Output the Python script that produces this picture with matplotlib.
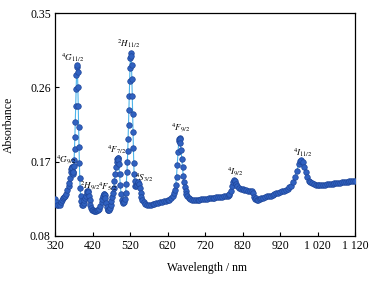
import matplotlib
matplotlib.use("Agg")
import matplotlib.pyplot as plt

plt.rcParams['font.family'] = ['Liberation Serif', 'DejaVu Serif']
plt.rcParams['mathtext.fontset'] = 'stix'

wavelength = [
    320, 323, 326, 329, 332, 335, 338, 341, 344, 347, 350, 353, 356, 358, 360,
    362, 363, 364, 365, 366, 367, 368, 369, 370, 371, 372, 373, 374, 375, 376,
    377, 378, 379, 380, 381, 382, 383, 384, 385, 386, 387, 388, 390, 392, 394,
    396, 398, 400, 402, 404, 406, 407, 408, 410, 412, 414, 416, 418, 420, 423,
    426, 429, 432, 435, 438, 441, 444, 446, 448, 450, 451, 452, 454, 456, 458,
    460, 462, 464, 466, 468, 470, 472, 474, 476, 478, 480, 482, 484, 486, 487,
    488, 489, 490, 492, 494, 496, 498, 500, 502, 504, 506, 508, 510, 512, 513,
    514, 515, 516, 517, 518, 519, 520, 521, 522, 523, 524, 525, 526, 527, 528,
    529, 530, 531, 532, 534, 536, 538, 540, 542, 544, 546, 548, 550, 553, 556,
    560, 565, 570, 575, 580, 585, 590, 595, 600, 605, 610, 615, 620, 625, 630,
    635, 638, 640, 642, 644, 646, 648, 650, 651, 652, 653, 654, 656, 658, 660,
    662, 664, 666, 668, 670, 673, 676, 680, 685, 690, 695, 700, 705, 710, 715,
    720, 725, 730, 735, 740, 745, 750, 755, 760, 765, 770, 775, 780, 783, 785,
    788, 791, 794, 797, 800, 803, 806, 810, 815, 820, 825, 830, 835, 840, 845,
    848, 850, 852, 855, 858, 862, 866, 870, 875, 880, 885, 890, 895, 900, 905,
    910, 915, 920, 925, 930, 935, 940, 945, 950, 955, 960, 965, 970, 974, 977,
    980, 984, 988, 992, 996, 1000, 1005, 1010, 1015, 1020, 1025, 1030, 1035,
    1040, 1045, 1050, 1055, 1060, 1065, 1070, 1075, 1080, 1085, 1090, 1095,
    1100, 1105, 1110, 1115, 1120,
]

absorbance = [
    0.125, 0.121, 0.118, 0.117, 0.118, 0.121, 0.124, 0.126, 0.127, 0.128, 0.131, 0.136, 0.140, 0.144, 0.150,
    0.157, 0.161, 0.163, 0.164, 0.162, 0.158, 0.155, 0.158, 0.165, 0.172, 0.185, 0.200, 0.218, 0.238, 0.258,
    0.275, 0.285, 0.287, 0.278, 0.260, 0.238, 0.212, 0.188, 0.168, 0.150, 0.138, 0.129, 0.122, 0.118, 0.118,
    0.120, 0.123, 0.126, 0.129, 0.132, 0.134, 0.134, 0.133, 0.129, 0.123, 0.118, 0.114, 0.112, 0.111, 0.110,
    0.110, 0.110, 0.111, 0.112, 0.113, 0.116, 0.121, 0.125, 0.129, 0.131, 0.131, 0.130, 0.126, 0.120, 0.115,
    0.112, 0.111, 0.112, 0.114, 0.118, 0.122, 0.127, 0.132, 0.138, 0.146, 0.155, 0.163, 0.169, 0.173, 0.174,
    0.174, 0.172, 0.167, 0.155, 0.142, 0.131, 0.124, 0.121, 0.120, 0.121, 0.125, 0.132, 0.143, 0.158, 0.170,
    0.183, 0.198, 0.215, 0.232, 0.250, 0.268, 0.284, 0.296, 0.301, 0.298, 0.287, 0.270, 0.250, 0.228, 0.206,
    0.186, 0.168, 0.155, 0.146, 0.140, 0.140, 0.142, 0.144, 0.145, 0.143, 0.138, 0.132, 0.127, 0.123, 0.121,
    0.119, 0.118, 0.118, 0.118, 0.119, 0.119, 0.120, 0.120, 0.121, 0.121, 0.122, 0.122, 0.123, 0.124, 0.126,
    0.129, 0.132, 0.136, 0.142, 0.152, 0.166, 0.182, 0.195, 0.198, 0.199, 0.197, 0.193, 0.184, 0.173, 0.163,
    0.153, 0.145, 0.139, 0.134, 0.131, 0.128, 0.126, 0.125, 0.124, 0.124, 0.124, 0.124, 0.124, 0.125, 0.125,
    0.125, 0.125, 0.126, 0.126, 0.126, 0.126, 0.127, 0.127, 0.127, 0.127, 0.128, 0.128, 0.129, 0.130, 0.131,
    0.135, 0.140, 0.145, 0.148, 0.147, 0.143, 0.140, 0.138, 0.137, 0.137, 0.136, 0.136, 0.135, 0.134, 0.134,
    0.132, 0.127, 0.125, 0.126, 0.123, 0.124, 0.125, 0.126, 0.126, 0.127, 0.128, 0.129, 0.129, 0.130, 0.131,
    0.132, 0.132, 0.133, 0.134, 0.135, 0.136, 0.137, 0.139, 0.141, 0.145, 0.151, 0.159, 0.167, 0.171, 0.172,
    0.170, 0.164, 0.157, 0.151, 0.147, 0.145, 0.144, 0.143, 0.142, 0.142, 0.142, 0.142, 0.142,
    0.142, 0.143, 0.143, 0.143, 0.143, 0.144, 0.144, 0.144, 0.144, 0.145, 0.145, 0.145,
    0.145, 0.146, 0.146, 0.146, 0.147,
]

x_ticks = [320, 420, 520, 620, 720, 820, 920, 1020, 1120]
x_tick_labels = ['320', '420', '520', '620', '720', '820', '920', '1 020', '1 120']
y_ticks = [0.08, 0.17, 0.26, 0.35]
y_tick_labels = ['0.08', '0.17', '0.26', '0.35']

peak_labels = [r'$^{4}G_{11/2}$', r'$^{2}H_{11/2}$', r'$^{4}F_{9/2}$', r'$^{4}G_{9/2}$',
               r'$^{2}H_{9/2}$', r'$^{4}F_{5/2}$', r'$^{4}F_{7/2}$', r'$^{4}S_{3/2}$',
               r'$^{4}I_{9/2}$', r'$^{4}I_{11/2}$']
peak_label_x = [368, 517, 656, 350, 413, 461, 485, 557, 800, 982]
peak_label_y = [0.296, 0.313, 0.210, 0.172, 0.140, 0.140, 0.184, 0.151, 0.157, 0.181]

fig = plt.figure(figsize=(3.85, 2.84), dpi=100)
ax = fig.add_axes([55/385, 1-236/284, 300/385, 223/284])

ax.plot(wavelength, absorbance, '-', color='#4db4ea', lw=0.8, zorder=2)
ax.plot(wavelength, absorbance, 'o', ms=4.0, mfc='#3061c0', mec='#1f4699', mew=0.5, zorder=3)

for t, xx, yy in zip(peak_labels, peak_label_x, peak_label_y):
    ax.text(xx, yy, t, fontsize=6.5, ha='center', va='center', zorder=4)

ax.set_xlim(320, 1120)
ax.set_ylim(0.08, 0.35)
ax.set_xticks(x_ticks)
ax.set_xticklabels(x_tick_labels)
ax.set_yticks(y_ticks)
ax.set_yticklabels(y_tick_labels)
ax.tick_params(direction='in', length=3, width=0.8, labelsize=8.5, pad=3)
for s in ax.spines.values():
    s.set_linewidth(0.9)

ax.set_xlabel('Wavelength / nm', fontsize=8.5)
ax.set_ylabel('Absorbance', fontsize=8.5)
ax.xaxis.set_label_coords(0.507, -0.115)
ax.yaxis.set_label_coords(-0.135, 0.5)

fig.savefig('out.png', dpi=100)
